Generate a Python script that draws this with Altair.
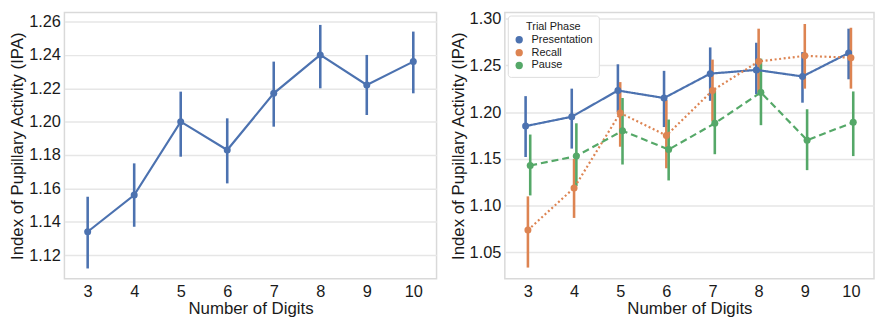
import altair as alt
import pandas as pd

digits = [3, 4, 5, 6, 7, 8, 9, 10]

overall_mean = [1.134, 1.156, 1.200, 1.183, 1.217, 1.240, 1.222, 1.236]
overall_lo = [1.112, 1.137, 1.179, 1.163, 1.197, 1.220, 1.204, 1.217]
overall_hi = [1.155, 1.175, 1.218, 1.202, 1.236, 1.258, 1.240, 1.254]

phases = ["Presentation", "Recall", "Pause"]
phase_colors = ["#4c72b0", "#dd8452", "#55a868"]
phase_dodge = [-0.05, 0.0, 0.05]

pres_mean = [1.185, 1.195, 1.223, 1.215, 1.241, 1.245, 1.238, 1.263]
pres_lo = [1.152, 1.161, 1.200, 1.184, 1.212, 1.219, 1.210, 1.235]
pres_hi = [1.217, 1.225, 1.251, 1.244, 1.269, 1.274, 1.264, 1.289]

recall_mean = [1.074, 1.119, 1.199, 1.175, 1.223, 1.254, 1.260, 1.258]
recall_lo = [1.034, 1.087, 1.163, 1.140, 1.190, 1.221, 1.225, 1.225]
recall_hi = [1.110, 1.150, 1.232, 1.213, 1.256, 1.289, 1.294, 1.290]

pause_mean = [1.143, 1.153, 1.180, 1.160, 1.188, 1.221, 1.170, 1.189]
pause_lo = [1.111, 1.121, 1.144, 1.127, 1.155, 1.186, 1.138, 1.153]
pause_hi = [1.176, 1.188, 1.215, 1.192, 1.223, 1.257, 1.203, 1.222]

left_ticks = [1.12, 1.14, 1.16, 1.18, 1.20, 1.22, 1.24, 1.26]
right_ticks = [1.05, 1.10, 1.15, 1.20, 1.25, 1.30]

FONT = "Liberation Sans"
TXT = "#1a1a1a"

left_df = pd.DataFrame({"digits": digits, "mean": overall_mean,
                        "lo": overall_lo, "hi": overall_hi})

rows = []
for ph, dd, m, lo, hi in zip(phases, phase_dodge,
                             [pres_mean, recall_mean, pause_mean],
                             [pres_lo, recall_lo, pause_lo],
                             [pres_hi, recall_hi, pause_hi]):
    for d, a, b, c in zip(digits, m, lo, hi):
        rows.append({"phase": ph, "digits": d, "xpos": d + dd,
                     "mean": a, "lo": b, "hi": c})
right_df = pd.DataFrame(rows)

xscale = alt.Scale(domain=[2.5, 10.5], nice=False, zero=False)
xaxis = alt.Axis(values=digits, format="d", title="Number of Digits", grid=False)

# Left panel
lx = alt.X("digits:Q", scale=xscale, axis=xaxis)
ly_scale = alt.Scale(domain=[1.1058, 1.2654], nice=False, zero=False)
ly_axis = alt.Axis(values=left_ticks, format=".2f",
                   title="Index of Pupillary Activity (IPA)")
lbase = alt.Chart(left_df)
left = alt.layer(
    lbase.mark_rule(color="#4c72b0", strokeWidth=2.6).encode(
        x=lx, y=alt.Y("lo:Q", scale=ly_scale, axis=ly_axis), y2="hi:Q"),
    lbase.mark_line(color="#4c72b0", strokeWidth=2.2).encode(
        x=lx, y=alt.Y("mean:Q", scale=ly_scale, axis=ly_axis)),
    lbase.mark_point(color="#4c72b0", filled=True, size=50, opacity=1).encode(
        x=lx, y=alt.Y("mean:Q", scale=ly_scale, axis=ly_axis)),
).properties(width=376, height=269)

# Right panel
rx = alt.X("xpos:Q", scale=xscale, axis=xaxis)
ry_scale = alt.Scale(domain=[1.022, 1.3062], nice=False, zero=False)
ry_axis = alt.Axis(values=right_ticks, format=".2f",
                   title="Index of Pupillary Activity (IPA)")
cscale = alt.Scale(domain=phases, range=phase_colors)
dscale = alt.Scale(domain=phases, range=[[1, 0], [2, 2.6], [7, 4]])
leg = alt.Legend(title="Trial Phase", orient="top-left", symbolType="circle")
rbase = alt.Chart(right_df)
right = alt.layer(
    rbase.mark_rule(strokeWidth=2.6).encode(
        x=rx, y=alt.Y("lo:Q", scale=ry_scale, axis=ry_axis), y2="hi:Q",
        color=alt.Color("phase:N", scale=cscale, legend=leg),
        detail="phase:N"),
    rbase.mark_line(strokeWidth=2.2).encode(
        x=rx, y=alt.Y("mean:Q", scale=ry_scale, axis=ry_axis),
        color=alt.Color("phase:N", scale=cscale, legend=leg),
        strokeDash=alt.StrokeDash("phase:N", scale=dscale, legend=None)),
    rbase.mark_point(filled=True, size=50, opacity=1).encode(
        x=rx, y=alt.Y("mean:Q", scale=ry_scale, axis=ry_axis),
        color=alt.Color("phase:N", scale=cscale, legend=leg)),
).properties(width=373, height=269)

chart = alt.hconcat(left, right, spacing=11).resolve_legend(
    color="independent", strokeDash="independent"
).resolve_scale(color="independent").configure(
    font=FONT,
    padding={"left": 0, "top": 0, "right": 0, "bottom": 0},
).configure_view(
    stroke="#d9d9d9", strokeWidth=1.5, fill="white"
).configure_axis(
    domain=False, ticks=False, labelFont=FONT, titleFont=FONT,
    labelFontSize=16.5, titleFontSize=17, labelColor=TXT, titleColor=TXT,
    titleFontWeight="normal", gridColor="#e6e6e6", gridWidth=1.5,
    labelPadding=4, titlePadding=2,
).configure_axisX(labelPadding=5, titlePadding=1).configure_legend(
    titleFontSize=11, labelFontSize=11, titleFontWeight="normal",
    titleFont=FONT, labelFont=FONT, titleColor=TXT, labelColor=TXT,
    strokeColor="#dddddd", fillColor="white", padding=6, cornerRadius=3,
    offset=3, symbolSize=55, rowPadding=1, titleAnchor="middle",
    titlePadding=2, symbolStrokeWidth=0, labelOffset=7,
)

chart.save("out.html", embed_options={"renderer": "svg", "actions": False})
